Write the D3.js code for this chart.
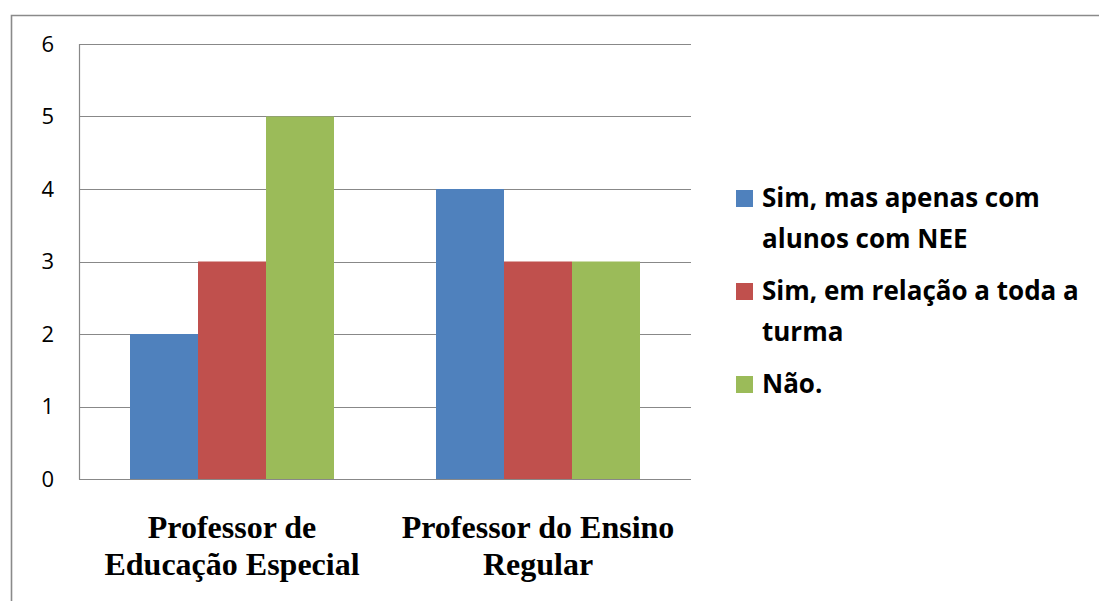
<!DOCTYPE html>
<html><head><meta charset="utf-8">
<script src="https://cdn.jsdelivr.net/npm/d3@7"></script>
<style>body{margin:0;background:#fff}</style>
</head><body>
<svg id="c" width="1099" height="601"></svg>
<script>
const categories = [["Professor de","Educação Especial"],["Professor do Ensino","Regular"]];
const seriesNames = [["Sim, mas apenas com","alunos com NEE"],["Sim, em relação a toda a","turma"],["Não."]];
const seriesValues = [[2,4],[3,3],[5,3]];
const colors = ["#4F81BD","#C0504D","#9BBB59"];
const yTicks = [0,1,2,3,4,5,6];

const svg = d3.select("#c");
const L=79,R=691,T=44,B=479;
// outer border
svg.append("path").attr("d","M11.5,601 L11.5,15.5 L1099,15.5").attr("fill","none").attr("stroke","#8a8a8a").attr("stroke-width",1.6);

const y = d3.scaleLinear().domain([0,6]).range([B,T]);
const x0 = d3.scaleBand().domain(d3.range(categories.length)).range([L,R]).paddingInner(0).paddingOuter(0);
const groupW = x0.bandwidth()*(3/4.5);
const x1 = d3.scaleBand().domain(d3.range(seriesValues.length)).range([0,groupW]);

// gridlines
svg.append("g").selectAll("line").data(yTicks).join("line")
  .attr("x1",L).attr("x2",R).attr("y1",d=>Math.round(y(d))+0.5).attr("y2",d=>Math.round(y(d))+0.5)
  .attr("stroke","#888").attr("stroke-width",1.2);
// y axis line
svg.append("line").attr("x1",L+0.5).attr("x2",L+0.5).attr("y1",T).attr("y2",B+0.5).attr("stroke","#888").attr("stroke-width",1.2);

// bars
seriesValues.forEach((vals,s)=>{
  svg.append("g").selectAll("rect").data(vals).join("rect")
    .attr("x",(d,i)=>x0(i)+(x0.bandwidth()-groupW)/2+x1(s))
    .attr("width",x1.bandwidth())
    .attr("y",d=>y(d)).attr("height",d=>B-y(d))
    .attr("fill",colors[s]);
});

// y tick labels
svg.append("g").selectAll("text").data(yTicks).join("text")
  .attr("x",54).attr("y",d=>y(d)).attr("dy","0.36em")
  .attr("text-anchor","end").attr("font-family","Open Sans").attr("font-size",22)
  .attr("fill","#000").text(d=>d);

// category labels
categories.forEach((lines,i)=>{
  const cx = x0(i)+x0.bandwidth()/2;
  lines.forEach((t,j)=>{
    svg.append("text").attr("x",cx).attr("y",538+j*37).attr("text-anchor","middle")
      .attr("font-family","Liberation Serif").attr("font-weight","bold").attr("font-size",32)
      .text(t);
  });
});

// legend
const legTops=[207,300,393];
seriesNames.forEach((lines,s)=>{
  svg.append("rect").attr("x",736).attr("y",legTops[s]-17).attr("width",17).attr("height",17).attr("fill",colors[s]);
  lines.forEach((t,j)=>{
    svg.append("text").attr("x",762).attr("y",legTops[s]+j*41).attr("font-family","Open Sans")
      .attr("font-weight","bold").attr("font-size",26).attr("fill","#000").text(t);
  });
});
</script>
</body></html>
